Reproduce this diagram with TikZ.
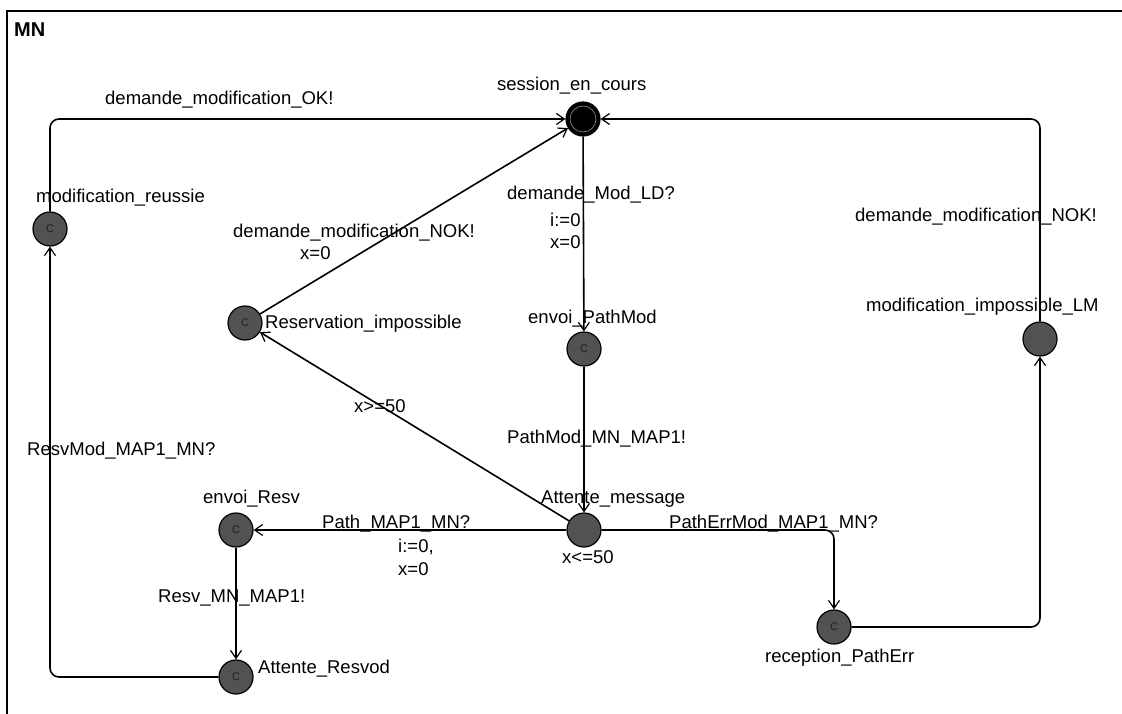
\documentclass[tikz,border=0pt]{standalone}
\usepackage{fontspec}
\setmainfont{Liberation Sans}
\usetikzlibrary{arrows.meta}
\begin{document}
\begin{tikzpicture}[x=1pt,y=-1pt,
  loc/.style={circle, draw=black, line width=1.2pt, fill=black!68, minimum size=34pt, inner sep=0pt,
              font=\fontsize{11}{11}\selectfont, text=black!88},
  lbl/.style={anchor=base west, inner sep=0pt, font=\fontsize{18.5}{21}\selectfont},
  trans/.style={line width=1.6pt, rounded corners=9pt, -{Straight Barb[length=8pt,width=11pt,line width=1.2pt]}}]
\useasboundingbox (0,0) rectangle (1122,714);
% frame
\coordinate (fbl) at (7,714);
\coordinate (ftl) at (7,11);
\coordinate (ftr) at (1122,11);
\draw[line width=2pt] (fbl) -- (ftl) -- (ftr);
\node[anchor=base west, inner sep=0pt, font=\fontsize{20}{22}\selectfont\bfseries] (title) at (14,37) {MN};

% locations
\node[loc, fill=black] (sess) at (583,119) {};
\draw[black!45, line width=0.6pt] (sess.center) circle (13pt);
\node[loc] (reussie) at (50,229) {C};
\node[loc] (resimp) at (245,323) {C};
\node[loc] (pathmod) at (584,349) {C};
\node[loc] (implm) at (1040,339) {};
\node[loc] (envresv) at (236,530) {C};
\node[loc] (attmsg) at (584,530) {};
\node[loc] (attresvod) at (236,677) {C};
\node[loc] (recpe) at (834,627) {C};

% location names
\node[lbl] (n1) at (497,91) {session\_en\_cours};
\node[lbl] (n2) at (36,203) {modification\_reussie};
\node[lbl] (n3) at (265,328) {Reservation\_impossible};
\node[lbl] (n4) at (528,323) {envoi\_PathMod};
\node[lbl] (n5) at (866,311) {modification\_impossible\_LM};
\node[lbl] (n6) at (203,503) {envoi\_Resv};
\node[lbl] (n7) at (541,503) {Attente\_message};
\node[lbl] (n7b) at (562,563) {x<=50};
\node[lbl] (n8) at (258,673) {Attente\_Resvod};
\node[lbl] (n9) at (765,662) {reception\_PathErr};

% transitions
\draw[trans] (reussie) |- (sess);
\draw[trans] (resimp) -- (sess);
\draw[trans] (sess) -- (pathmod);
\draw[trans] (pathmod) -- (attmsg);
\draw[trans] (attmsg) -- (resimp);
\draw[trans] (attmsg) -- (envresv);
\draw[trans] (attmsg) -| (recpe);
\draw[trans] (envresv) -- (attresvod);
\draw[trans] (attresvod) -| (reussie);
\draw[trans] (recpe) -| (implm);
\draw[trans] (implm) |- (sess);

% transition labels
\node[lbl] (l1) at (105,105) {demande\_modification\_OK!};
\node[lbl] (l2) at (233,237) {demande\_modification\_NOK!};
\node[lbl] (l2b) at (300,260) {x=0};
\node[lbl] (l3) at (507,200) {demande\_Mod\_LD?};
\node[lbl] (l3b) at (550,227) {i:=0};
\node[lbl] (l3c) at (550,248) {x=0};
\node[lbl] (l4) at (855,222) {demande\_modification\_NOK!};
\node[lbl] (l5) at (354,412) {x>=50};
\node[lbl] (l6) at (507,443) {PathMod\_MN\_MAP1!};
\node[lbl] (l7) at (322,528) {Path\_MAP1\_MN?};
\node[lbl] (l7b) at (398,552) {i:=0,};
\node[lbl] (l7c) at (398,575) {x=0};
\node[lbl] (l8) at (669,528) {PathErrMod\_MAP1\_MN?};
\node[lbl] (l9) at (158,602) {Resv\_MN\_MAP1!};
\node[lbl] (l10) at (27,455) {ResvMod\_MAP1\_MN?};
\end{tikzpicture}
\end{document}
